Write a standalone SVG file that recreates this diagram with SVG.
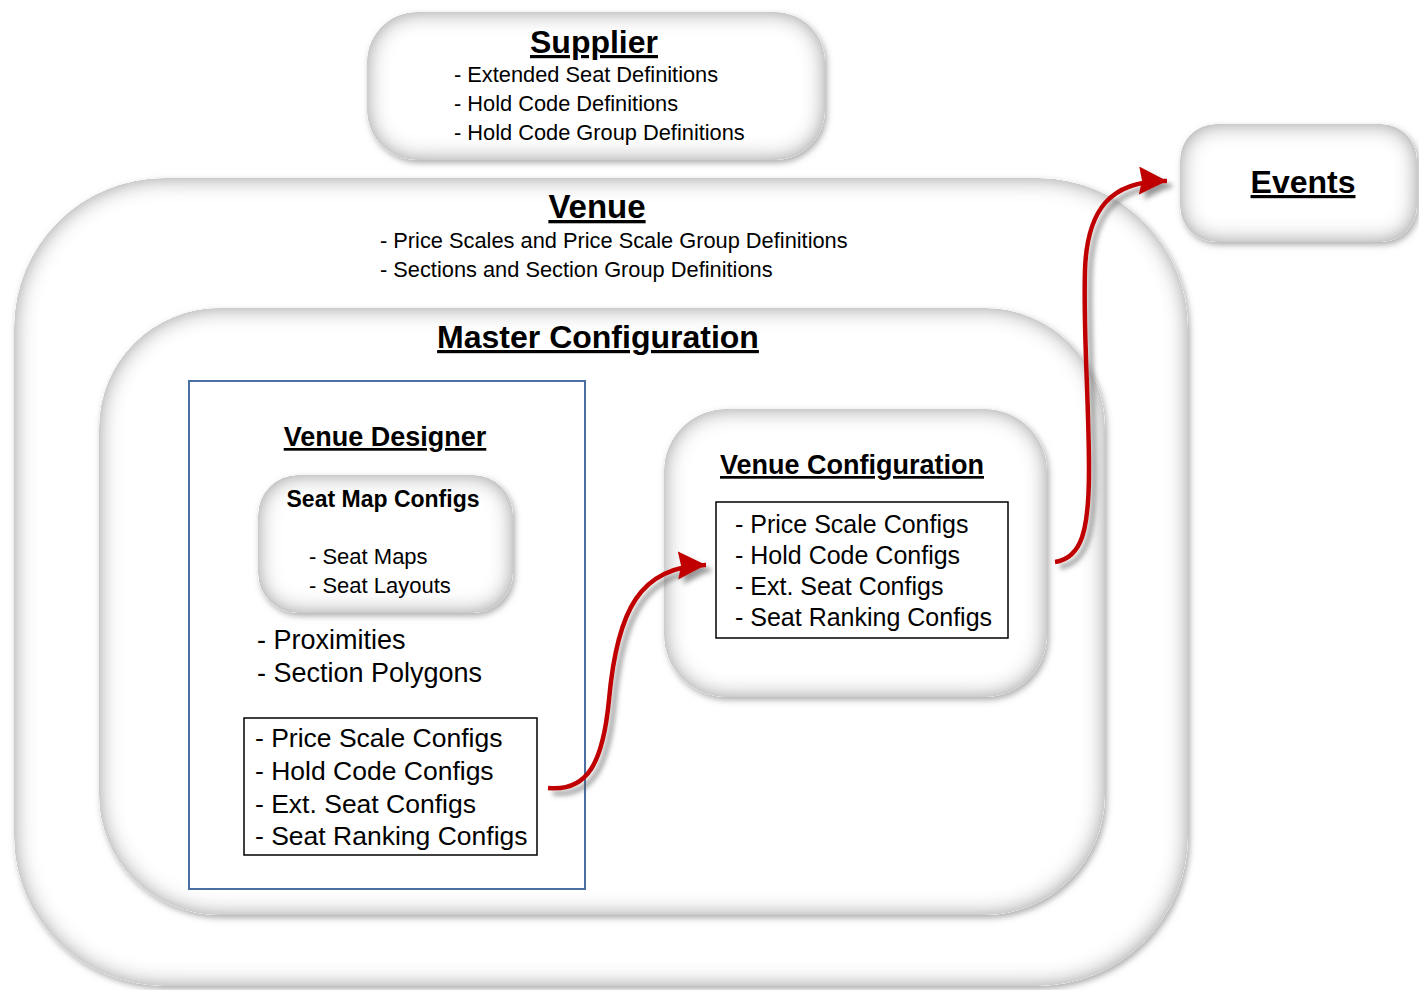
<svg xmlns="http://www.w3.org/2000/svg" width="1419" height="990" viewBox="0 0 1419 990">
<style>
text{font-family:"Liberation Sans",Arial,sans-serif;fill:#000}
.t{font-weight:bold;text-decoration:underline;text-anchor:middle}
.node{fill:#fff;filter:url(#glow)}
.box{fill:#fff;stroke:#000;stroke-width:1.5}
.conn{fill:none;stroke:#c00000;stroke-width:4.5;filter:url(#ashadow)}
</style>
<defs>
<filter id="glow" x="-10%" y="-10%" width="120%" height="120%">
<feGaussianBlur in="SourceAlpha" stdDeviation="3" result="ob"/>
<feOffset in="ob" dx="2" dy="3" result="obo"/>
<feFlood flood-color="#777" flood-opacity="0.6"/>
<feComposite in2="obo" operator="in" result="outer"/>
<feGaussianBlur in="SourceAlpha" stdDeviation="11" result="b"/>
<feComposite in="SourceAlpha" in2="b" operator="arithmetic" k2="1" k3="-1" result="edge"/>
<feFlood flood-color="#7a7a7a"/>
<feComposite in2="edge" operator="in" result="shade"/>
<feMerge><feMergeNode in="outer"/><feMergeNode in="SourceGraphic"/><feMergeNode in="shade"/></feMerge>
</filter>
<filter id="ashadow" x="-20%" y="-20%" width="140%" height="140%">
<feGaussianBlur in="SourceAlpha" stdDeviation="2.5" result="b"/>
<feOffset in="b" dx="5" dy="5" result="o"/>
<feFlood flood-color="#555" flood-opacity="0.6"/>
<feComposite in2="o" operator="in" result="s"/>
<feMerge><feMergeNode in="s"/><feMergeNode in="SourceGraphic"/></feMerge>
</filter>
<marker id="ah" markerUnits="userSpaceOnUse" markerWidth="32" markerHeight="32" refX="28" refY="14" orient="auto">
<path d="M0,0 L28,14 L0,28 L3,14 Z" fill="#c00000"/>
</marker>
</defs>
<rect width="1419" height="990" fill="#fff"/>

<g id="venue">
<rect class="node" x="14" y="178" width="1174" height="808" rx="150"/>
<text class="t" x="597" y="218" font-size="33">Venue</text>
<text x="380" y="248" font-size="21.8">- Price Scales and Price Scale Group Definitions</text>
<text x="380" y="277" font-size="21.8">- Sections and Section Group Definitions</text>
</g>

<g id="master-configuration">
<rect class="node" x="99" y="308" width="1006" height="607" rx="120"/>
<text class="t" x="598" y="348" font-size="32">Master Configuration</text>
</g>

<g id="supplier">
<rect class="node" x="367" y="12" width="458" height="148" rx="50"/>
<text class="t" x="594" y="53" font-size="32">Supplier</text>
<text x="454" y="82" font-size="21.8">- Extended Seat Definitions</text>
<text x="454" y="111" font-size="21.8">- Hold Code Definitions</text>
<text x="454" y="140" font-size="21.8">- Hold Code Group Definitions</text>
</g>

<g id="events">
<rect class="node" x="1180" y="124" width="237" height="118" rx="36"/>
<text class="t" x="1303" y="193" font-size="32">Events</text>
</g>

<g id="venue-designer">
<rect x="189" y="381" width="396" height="508" fill="#fff" stroke="#4a6fa5" stroke-width="2"/>
<text class="t" x="385" y="446" font-size="27">Venue Designer</text>
<text x="257" y="649" font-size="27">- Proximities</text>
<text x="257" y="682" font-size="27">- Section Polygons</text>
</g>

<g id="seat-map-configs">
<rect class="node" x="258" y="475" width="255" height="138" rx="40"/>
<text x="383" y="507" font-size="23" font-weight="bold" text-anchor="middle">Seat Map Configs</text>
<text x="309" y="564" font-size="22">- Seat Maps</text>
<text x="309" y="593" font-size="22">- Seat Layouts</text>
</g>

<g id="designer-configs">
<rect class="box" x="244" y="718" width="293" height="137"/>
<text x="255" y="747" font-size="26.5">- Price Scale Configs</text>
<text x="255" y="780" font-size="26.5">- Hold Code Configs</text>
<text x="255" y="813" font-size="26.5">- Ext. Seat Configs</text>
<text x="255" y="845" font-size="26.5">- Seat Ranking Configs</text>
</g>

<g id="venue-configuration">
<rect class="node" x="664" y="409" width="383" height="288" rx="62"/>
<text class="t" x="852" y="474" font-size="27">Venue Configuration</text>
<rect class="box" x="716" y="502" width="292" height="136"/>
<text x="735" y="533" font-size="25">- Price Scale Configs</text>
<text x="735" y="564" font-size="25">- Hold Code Configs</text>
<text x="735" y="595" font-size="25">- Ext. Seat Configs</text>
<text x="735" y="626" font-size="25">- Seat Ranking Configs</text>
</g>

<g id="connectors">
<path class="conn" marker-end="url(#ah)" d="M548,788 C588,792 603,762 609,700 C617,610 640,566 706,565"/>
<path class="conn" marker-end="url(#ah)" d="M1055,562 C1082,558 1089,530 1089,470 C1089,400 1083,330 1085,270 C1087,210 1110,180 1167,181"/>
</g>
</svg>
